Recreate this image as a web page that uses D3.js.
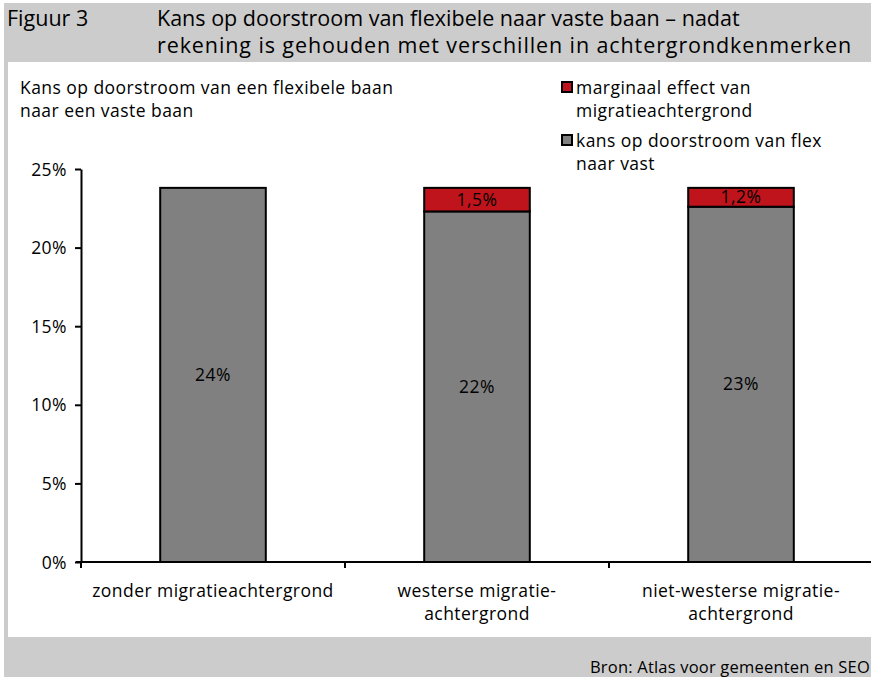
<!DOCTYPE html>
<html><head><meta charset="utf-8">
<script src="https://cdn.jsdelivr.net/npm/d3@7"></script>
<style>body{margin:0;background:#fff}svg{display:block;font-family:"Open Sans","Noto Sans",sans-serif}</style>
</head><body>
<svg id="c" width="871" height="677"></svg>
<script>
const categories = [["zonder migratieachtergrond"], ["westerse migratie-", "achtergrond"], ["niet-westerse migratie-", "achtergrond"]];
const baseValues = [23.8, 22.3, 22.6];
const baseLabels = ["24%", "22%", "23%"];
const effectValues = [0, 1.5, 1.2];
const effectLabels = ["", "1,5%", "1,2%"];
const yTicks = [0, 5, 10, 15, 20, 25];
const legendItems = [
  {lines: ["marginaal effect van", "migratieachtergrond"], color: "#c0141c"},
  {lines: ["kans op doorstroom van flex", "naar vast"], color: "#808080"}
];

const FS = 17.5, LS = 0.45;
const svg = d3.select("#c");
svg.append("rect").attr("x",4).attr("y",3).attr("width",867).attr("height",674).attr("fill","#cccccc");
svg.append("rect").attr("x",8).attr("y",62).attr("width",863).attr("height",575).attr("fill","#fff");

const title = (x0, y0, ls, txt) => svg.append("text").attr("x",x0).attr("y",y0).attr("font-size",21.5)
  .attr("letter-spacing",ls).attr("fill","#000").text(txt);
title(7, 26, 0, "Figuur 3");
title(157, 26, 0, "Kans op doorstroom van flexibele naar vaste baan – nadat");
title(157, 53, 0.9, "rekening is gehouden met verschillen in achtergrondkenmerken");

const body = sel => sel.attr("font-size",FS).attr("letter-spacing",LS).attr("fill","#000");
body(svg.append("text").attr("x",20).attr("y",94).text("Kans op doorstroom van een flexibele baan"));
body(svg.append("text").attr("x",20).attr("y",117).text("naar een vaste baan"));

const x = d3.scaleBand().domain(d3.range(categories.length)).range([81, 873]).paddingInner(0).paddingOuter(0);
const y = d3.scaleLinear().domain([0, 25]).range([562, 169]);
const bw = x.bandwidth()*0.4;
const bars = baseValues.map((b,i)=>({i, base:b, eff:effectValues[i], bl:baseLabels[i], el:effectLabels[i]}));

const g = svg.append("g");
g.selectAll(".base").data(bars).join("rect")
  .attr("x",d=>x(d.i)+(x.bandwidth()-bw)/2).attr("width",bw)
  .attr("y",d=>y(d.base)).attr("height",d=>y(0)-y(d.base))
  .attr("fill","#808080").attr("stroke","#000").attr("stroke-width",2);
g.selectAll(".eff").data(bars.filter(d=>d.eff>0)).join("rect")
  .attr("x",d=>x(d.i)+(x.bandwidth()-bw)/2).attr("width",bw)
  .attr("y",d=>y(d.base+d.eff)).attr("height",d=>y(d.base)-y(d.base+d.eff))
  .attr("fill","#c0141c").attr("stroke","#000").attr("stroke-width",2);

body(g.selectAll(".bl").data(bars).join("text")
  .attr("x",d=>x(d.i)+x.bandwidth()/2).attr("y",d=>(y(d.base)+y(0))/2+6)
  .attr("text-anchor","middle").text(d=>d.bl));
body(g.selectAll(".el").data(bars.filter(d=>d.eff>0)).join("text")
  .attr("x",d=>x(d.i)+x.bandwidth()/2).attr("y",d=>(y(d.base+d.eff)+y(d.base))/2+6)
  .attr("text-anchor","middle").text(d=>d.el));

// y axis
const ya = svg.append("g").attr("transform","translate(81,0)")
  .call(d3.axisLeft(y).tickValues(yTicks).tickFormat(d=>d+"%").tickSize(6).tickSizeOuter(0));
ya.select(".domain").attr("stroke","#000").attr("stroke-width",2);
ya.selectAll(".tick line").attr("stroke","#000").attr("stroke-width",2);
ya.selectAll(".tick text").attr("font-size",FS).attr("letter-spacing",LS).attr("font-family","'Open Sans','Noto Sans',sans-serif").attr("fill","#000").attr("x",-14).attr("dy","0.35em");

// x axis
const xa = svg.append("g").attr("transform","translate(0,562)");
xa.append("line").attr("x1",76).attr("x2",873).attr("y1",0).attr("y2",0).attr("stroke","#000").attr("stroke-width",2);
xa.selectAll(".xt").data(d3.range(categories.length+1)).join("line")
  .attr("x1",i=>i<categories.length?x(i):x(i-1)+x.bandwidth()).attr("x2",i=>i<categories.length?x(i):x(i-1)+x.bandwidth())
  .attr("y1",0).attr("y2",6).attr("stroke","#000").attr("stroke-width",2);
const cl = body(svg.selectAll(".cl").data(categories).join("text")
  .attr("x",(d,i)=>x(i)+x.bandwidth()/2).attr("y",597).attr("text-anchor","middle"));
cl.each(function(d){
  const t=d3.select(this);
  d.forEach((ln,j)=>t.append("tspan").attr("x",t.attr("x")).attr("dy",j?23:0).text(ln));
});

// legend
const lg = svg.selectAll(".lg").data(legendItems).join("g")
  .attr("transform",(d,i)=>`translate(561,${81+i*53})`);
lg.append("rect").attr("x",1).attr("y",1).attr("width",10).attr("height",10).attr("fill",d=>d.color).attr("stroke","#000").attr("stroke-width",2);
lg.each(function(d){
  const t=body(d3.select(this).append("text").attr("x",15).attr("y",13));
  d.lines.forEach((ln,j)=>t.append("tspan").attr("x",15).attr("dy",j?23:0).text(ln));
});

body(svg.append("text").attr("x",870).attr("y",673).attr("text-anchor","end")).attr("font-size",16.5).attr("letter-spacing",0.2).text("Bron: Atlas voor gemeenten en SEO");
</script>
</body></html>
